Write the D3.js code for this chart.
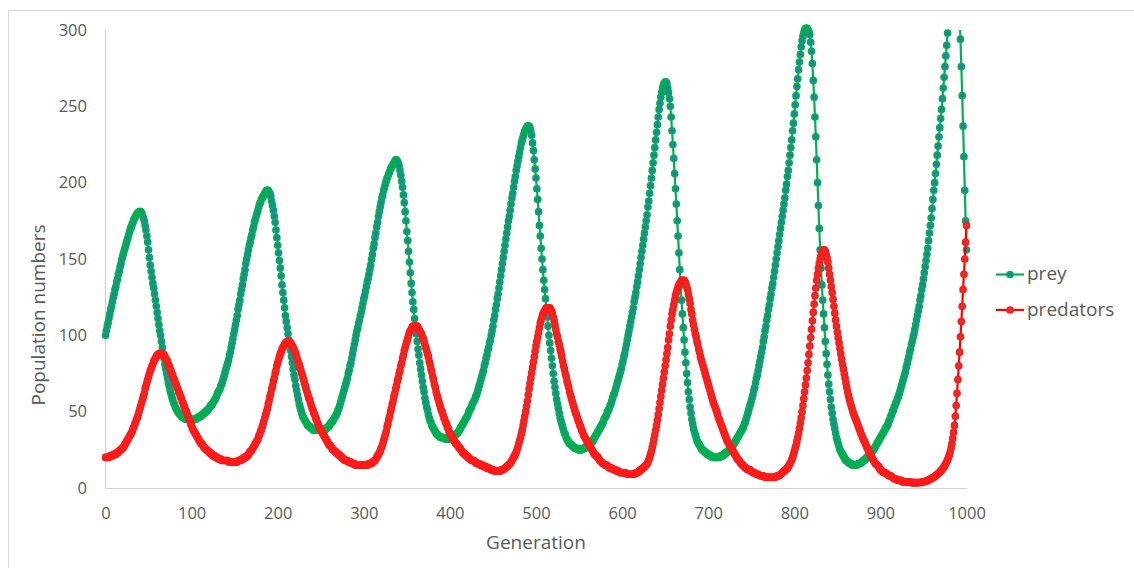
<!DOCTYPE html>
<html><head><meta charset="utf-8">
<script src="https://cdn.jsdelivr.net/npm/d3@7"></script>
<style>
body{margin:0;background:#fff}
svg{display:block}
text{font-family:"Open Sans",sans-serif;fill:#595959}
</style>
</head><body>
<svg id="chart" width="1134" height="568"></svg>
<script>
// generation index of each sample
const generations = d3.range(0, 1001);

// prey population, one value per generation (rows of 50 generations)
const prey = [
100,103,106,108,111,114,117,119,122,125,127,130,132,135,137,140,142,145,147,150,152,154,156,158,160,162,164,166,168,170,171,173,174,176,177,178,179,180,180,181,181,181,180,179,177,175,172,169,165,161,
156,151,146,142,138,134,131,127,123,119,115,111,107,103,100,96,92,88,85,81,78,75,72,69,67,64,62,60,58,56,55,53,52,51,50,49,49,48,47,47,46,46,46,45,45,45,45,45,45,45,
45,45,45,45,45,45,46,46,46,47,47,47,48,48,49,49,50,50,51,51,52,53,54,54,55,56,57,58,59,60,62,63,64,65,67,68,70,72,74,76,78,80,82,84,87,89,92,95,98,101,
104,107,110,113,117,120,123,127,130,133,137,140,143,147,150,153,156,159,161,164,166,169,171,174,176,178,180,182,184,186,187,189,190,191,192,193,194,195,195,195,194,193,191,188,185,182,178,174,169,164,
159,154,149,144,139,133,128,123,118,113,109,105,101,97,94,90,86,82,78,74,71,67,64,61,58,55,53,51,49,47,46,45,44,43,42,41,41,40,40,39,39,38,38,38,38,38,38,38,38,38,
38,38,38,38,38,38,39,39,40,40,41,42,43,43,44,45,46,47,48,49,51,52,54,56,58,60,62,64,66,68,70,72,75,77,80,82,85,88,91,94,97,100,103,105,108,110,113,115,118,121,
124,126,129,132,135,137,140,143,146,150,153,157,160,164,167,171,174,178,181,184,187,190,192,195,197,199,201,203,204,206,207,209,210,211,212,213,214,215,215,214,213,211,208,205,201,197,192,187,181,175,
168,162,155,148,141,134,128,122,117,111,106,101,96,91,87,82,78,74,70,66,63,59,56,53,51,48,46,44,43,41,40,39,38,37,36,35,35,34,34,33,33,33,33,33,33,32,32,32,32,32,
33,33,33,33,34,34,35,35,36,36,37,38,39,40,41,42,43,44,45,46,47,48,50,51,52,53,55,56,57,58,60,61,63,65,67,69,71,73,75,77,80,82,85,87,90,92,95,97,100,103,
106,110,113,117,120,124,127,131,135,139,143,147,151,155,159,163,167,171,175,178,182,186,190,193,197,201,204,208,211,214,217,220,223,226,228,230,232,234,235,236,237,237,237,236,234,231,226,221,215,209,
203,196,189,181,172,165,157,150,143,136,130,124,118,112,106,100,95,90,85,80,75,70,66,62,58,55,52,49,46,44,42,40,38,36,35,33,32,31,30,29,29,28,28,27,27,26,26,26,26,25,
25,25,25,25,26,26,26,26,27,27,28,28,29,29,30,30,31,32,33,34,35,36,37,38,39,40,41,42,43,45,46,47,48,50,51,52,54,55,57,59,61,62,64,66,68,70,72,74,76,78,
81,83,86,88,91,94,97,100,103,106,109,112,115,118,122,125,128,132,135,139,143,147,151,155,159,163,167,171,175,179,184,188,193,198,203,208,213,218,223,228,233,238,243,248,252,256,259,262,264,265,
266,266,265,262,259,255,250,243,234,225,216,206,196,186,175,165,154,143,133,123,114,105,97,89,82,75,69,63,58,53,49,45,42,39,37,35,33,31,30,29,28,27,26,25,25,24,24,23,23,22,
22,22,21,21,21,20,20,20,20,20,20,20,20,20,21,21,21,21,22,22,23,23,24,24,25,25,26,27,28,28,29,30,31,32,33,34,35,36,37,38,39,40,42,43,45,47,49,51,53,55,
57,59,61,64,66,69,72,74,77,80,83,86,89,92,96,99,103,106,110,113,117,120,124,127,131,134,138,142,146,150,154,158,162,166,170,174,178,182,186,190,195,199,204,208,213,218,223,228,234,239,
245,251,257,263,268,274,279,284,289,293,296,298,300,301,301,301,300,299,297,292,286,278,267,256,243,230,215,200,185,170,156,144,133,123,114,105,96,88,81,74,68,63,58,53,49,45,42,39,36,33,
31,29,27,25,24,23,22,21,20,19,18,18,17,17,16,16,16,15,15,15,15,15,15,15,16,16,16,16,17,17,18,18,19,19,20,20,21,21,22,23,24,24,25,26,27,28,29,30,31,32,
33,34,35,36,37,38,39,40,41,42,44,45,47,48,50,51,53,54,56,57,59,60,62,64,66,68,70,72,74,76,79,81,84,86,89,91,94,96,99,101,104,107,110,113,116,119,123,126,130,133,
137,141,145,149,153,157,162,167,172,177,183,189,195,200,206,212,218,224,230,236,242,248,255,262,269,276,283,290,298,304,309,314,318,321,324,325,326,325,324,321,318,313,307,294,276,257,237,217,195,175,
156];

// predator population, one value per generation (rows of 50 generations)
const predators = [
20,20,20,20,20,21,21,21,21,22,22,22,22,23,23,24,24,25,25,26,26,27,28,29,30,31,32,33,34,35,36,37,39,40,42,43,45,46,48,50,52,54,56,58,60,62,65,67,69,71,
73,75,77,78,80,81,83,84,85,86,87,87,88,88,88,88,88,87,87,86,85,84,83,81,80,78,77,75,74,72,71,69,68,66,65,63,62,60,59,57,56,54,53,51,50,48,47,45,44,42,
41,39,38,37,36,35,34,33,32,31,30,29,29,28,27,26,26,25,25,24,24,23,23,22,22,21,21,21,20,20,20,19,19,19,19,18,18,18,18,18,18,18,18,17,17,17,17,17,17,17,
17,17,17,17,18,18,18,18,19,19,19,20,20,20,21,21,22,23,24,24,25,26,27,28,29,30,31,32,34,35,37,38,40,42,44,46,48,50,52,55,57,60,62,65,67,70,72,75,77,80,
82,84,86,88,89,91,92,93,94,95,95,96,96,96,95,95,94,93,92,91,89,88,86,84,82,81,79,77,75,73,71,69,67,65,63,61,59,58,56,54,52,51,49,48,46,45,43,42,40,39,
38,37,36,35,34,33,32,31,30,29,28,28,27,26,25,25,24,24,23,23,22,22,21,21,20,20,19,19,18,18,18,18,17,17,17,17,16,16,16,16,15,15,15,15,15,15,15,15,15,15,
15,15,15,15,15,15,16,16,16,16,17,17,18,18,19,20,21,22,23,24,26,27,29,31,33,35,37,40,42,45,47,50,52,55,57,60,62,65,67,70,72,75,77,80,82,85,87,90,92,94,
96,98,100,102,103,104,105,106,106,106,106,106,106,105,104,103,102,101,99,98,96,94,92,90,88,86,83,81,78,76,73,71,68,66,63,61,59,57,55,53,51,50,48,46,45,43,42,40,39,37,
36,35,34,33,32,31,30,29,29,28,27,26,26,25,24,23,23,22,22,21,21,20,20,19,19,18,18,18,18,17,17,16,16,16,16,15,15,15,15,14,14,14,14,13,13,13,13,12,12,12,
12,11.5,11,11,11,11,11,11,11,11.5,12,12,12,12.5,13,13.5,14,14.5,15,15.5,16,17,18,19,20,21,22,23.5,25,27,29,31,33,35.5,38,41,44,47,50,53.5,57,61,65,68.5,72,75.5,79,82.5,86,89.5,
93,96,99,102,105,108,110,112,114,115,116,117,118,118,118,118,118,117,116,114,112,110,107,104,101,99,96,94,91,89,86,83,80,78,75,73,70,68,66,63,61,59,57,55,53,51,49,48,46,44,
43,41,40,38,37,35,34,33,32,31,30,29,28,27,26,25,24,23,22,21.5,21,20.5,20,19,18,17.5,17,16.5,16,15.5,15,15,15,14.5,14,13.5,13,13,13,12.5,12,12,12,11.5,11,11,11,10.5,10,10,
10,10,10,10,10,9.5,9,9,9,9,9,9,9,9,9,9.5,10,10,10,10.5,11,11.5,12,12.5,13,13.5,14,14.5,15,16,17,18.5,20,22,24,26.5,29,32,35,38,41,44.5,48,52,56,60,64,68,72,76,
80,84,88,92,97,101,106,110,114,117,120,123,126,128,130,132,133,134,135,136,136,136,136,135,134,132,130,127,124,121,117,114,110,107,104,101,99,96,94,91,89,86,84,82,80,78,76,74,72,70,
68,66,64,62,60,58,56,54.5,53,51.5,50,48,46,44.5,43,41.5,40,38.5,37,35.5,34,32.5,31,30,29,28,27,26,25,24,23,22,21,20,19,18.5,18,17,16,15.5,15,14.5,14,13.5,13,12.5,12,12,12,11.5,
11,10.5,10,10,10,9.5,9,9,9,8.5,8,8,8,8,8,7.5,7,7,7,7,7,7,7,7,7,7,7,7,7,7.5,8,8,8,8.5,9,9.5,10,10.5,11,11.5,12,12.5,13,14,15,16,17,18.5,20,22,
24,26,28,30.5,33,36,39,42.5,46,50,54,58.5,63,67.5,72,77,82,87.5,93,98.5,104,109.5,115,120.5,126,131,136,140,144,147,150,152,154,155,156,156,155,153,151,148,144,140,136,132,128,123.5,119,114.5,110,106,
102,98.5,95,91.5,88,84.5,81,78,75,72,69,66,63,60.5,58,56,54,52,50,48.5,47,45.5,44,42.5,41,39.5,38,36.5,35,33.5,32,31,30,28.5,27,26,25,23.5,22,21,20,19,18,17,16,15.5,15,14.5,14,13,
12,11.5,11,10.5,10,10,10,9.5,9,8.5,8,8,8,7.5,7,6.5,6,6,6,5.5,5,5,5,5,5,4.5,4,4,4,4,4,4,4,4,4,3.8,3.5,3.5,3.5,3.5,3.5,3.5,3.5,3.5,3.5,3.5,3.6,3.7,3.8,3.9,
4,4.1,4.3,4.5,4.7,4.9,5.2,5.5,5.8,6.1,6.5,6.8,7,7.5,8,8.5,9,9.5,10,10.5,11,11.7,12.4,13.2,14,15,16,17.2,18.5,20,21.5,23.5,26,29,32.5,36.5,41,47,54,62,71,80,89,99,109,119,130,140,150,161,
172];

const seriesNames = ["prey", "predators"];
const xTicks = [0,100,200,300,400,500,600,700,800,900,1000];
const yTicks = [0,50,100,150,200,250,300];
const xTitle = "Generation";
const yTitle = "Population numbers";

const svg = d3.select("#chart");
svg.append("rect").attr("width",1134).attr("height",568).attr("fill","#fff");

// outer chart border (only top/left visible in the crop)
svg.append("path").attr("d","M8.5,568V10.5H1134").attr("fill","none")
  .attr("stroke","#d9d9d9").attr("stroke-width",1);

const x = d3.scaleLinear().domain([0,1000]).range([105.5,966.5]);
const y = d3.scaleLinear().domain([0,300]).range([488,30]);

const yAxis = svg.append("g").attr("transform","translate(105,0)")
  .call(d3.axisLeft(y).tickValues(yTicks).tickFormat(d3.format("d")).tickSize(0).tickSizeOuter(0).tickPadding(18));
yAxis.selectAll("text").style("font-size","16.5px").attr("fill","#595959");
yAxis.select(".domain").attr("stroke","#d0d0d0").attr("stroke-width",1.2);

const xAxis = svg.append("g").attr("transform","translate(0,488)")
  .call(d3.axisBottom(x).tickValues(xTicks).tickFormat(d3.format("d")).tickSize(0).tickSizeOuter(0).tickPadding(19));
xAxis.selectAll("text").style("font-size","16.5px").attr("fill","#595959");
xAxis.select(".domain").attr("stroke","#d0d0d0").attr("stroke-width",1.2);

svg.append("text").attr("x",536).attr("y",549).attr("text-anchor","middle")
  .style("font-size","19px").text(xTitle);
svg.append("text").attr("transform","translate(45,315) rotate(-90)").attr("text-anchor","middle")
  .style("font-size","19px").text(yTitle);

svg.append("clipPath").attr("id","plotclip").append("rect")
  .attr("x",95).attr("y",30).attr("width",885).attr("height",470);

const styles = [
  {line:"#00b050", fill:"#2a7fa5", stroke:"#00b050"},
  {line:"#ff0000", fill:"#d8342c", stroke:"#ff1a1a"}
];
const seriesData = [prey, predators];

const line = d3.line().x(d => x(d.g)).y(d => y(d.v));

seriesData.forEach((vals, i) => {
  const pts = generations.map((g, k) => ({g, v: vals[k]})).filter(d => d.v !== undefined);
  const st = styles[i];
  const g = svg.append("g");
  g.append("path").datum(pts).attr("d", line).attr("fill","none")
    .attr("stroke", st.line).attr("stroke-width",2.2).attr("clip-path","url(#plotclip)");
  g.selectAll("circle").data(pts.filter(d => d.v <= 301.5)).join("circle")
    .attr("cx", d => x(d.g)).attr("cy", d => y(d.v)).attr("r",3.1)
    .attr("fill", st.fill).attr("stroke", st.stroke).attr("stroke-width",1.5);
});

// legend
const legendY = [274.5, 310];
seriesNames.forEach((name, i) => {
  const st = styles[i];
  const g = svg.append("g").attr("transform", `translate(0,${legendY[i]})`);
  g.append("line").attr("x1",996).attr("x2",1024).attr("y1",0).attr("y2",0)
    .attr("stroke", st.line).attr("stroke-width",2.2);
  g.append("circle").attr("cx",1010).attr("cy",0).attr("r",3.1)
    .attr("fill", st.fill).attr("stroke", st.stroke).attr("stroke-width",1.5);
  g.append("text").attr("x",1027).attr("y",5.5).style("font-size","19px").text(name);
});
</script>
</body></html>
